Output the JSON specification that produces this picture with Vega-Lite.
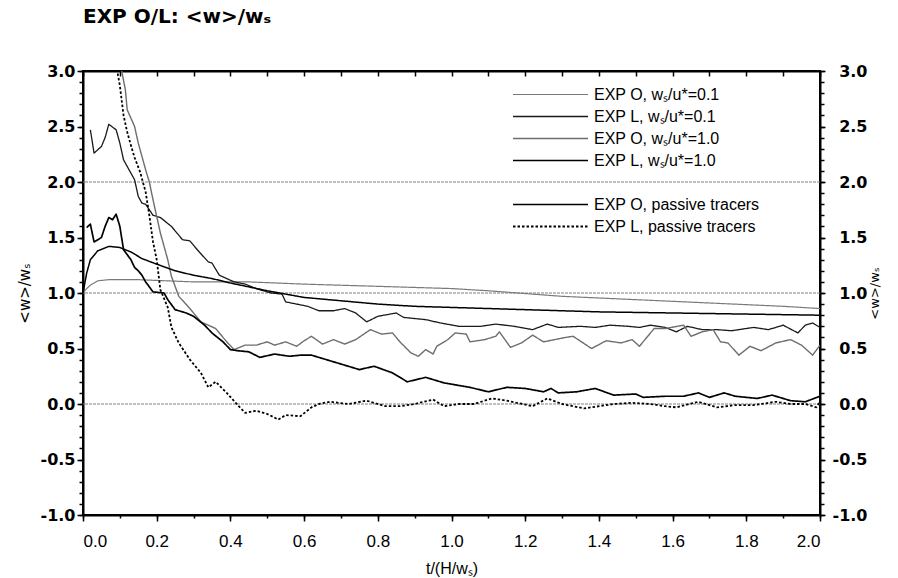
{
  "$schema": "https://vega.github.io/schema/vega-lite/v6.json",
  "width": 737,
  "height": 444,
  "autosize": {"type": "none"},
  "padding": {"left": 83, "top": 71, "right": 78, "bottom": 63},
  "background": "white",
  "title": {"text": "EXP O/L: <w>/wₛ", "anchor": "start", "frame": "group", "fontSize": 20, "fontWeight": "bold", "font": "DejaVu Sans", "color": "black", "offset": 36},
  "config": {
    "view": {"stroke": "black", "strokeWidth": 2},
    "axis": {"domainColor": "black", "domainWidth": 2, "tickColor": "black", "tickWidth": 1.5, "labelColor": "black", "titleColor": "black", "labelFont": "DejaVu Sans", "titleFont": "DejaVu Sans", "grid": false},
    "line": {"clip": true}
  },
  "datasets": {
    "curves": [
      {"s": "EXP O, wₛ/u*=0.1", "t": 0.0, "w": 1.0},
      {"s": "EXP O, wₛ/u*=0.1", "t": 0.01, "w": 1.04},
      {"s": "EXP O, wₛ/u*=0.1", "t": 0.02, "w": 1.07},
      {"s": "EXP O, wₛ/u*=0.1", "t": 0.04, "w": 1.11},
      {"s": "EXP O, wₛ/u*=0.1", "t": 0.07, "w": 1.12},
      {"s": "EXP O, wₛ/u*=0.1", "t": 0.15, "w": 1.12},
      {"s": "EXP O, wₛ/u*=0.1", "t": 0.3, "w": 1.1},
      {"s": "EXP O, wₛ/u*=0.1", "t": 0.45, "w": 1.1},
      {"s": "EXP O, wₛ/u*=0.1", "t": 0.6, "w": 1.08},
      {"s": "EXP O, wₛ/u*=0.1", "t": 0.8, "w": 1.06},
      {"s": "EXP O, wₛ/u*=0.1", "t": 1.0, "w": 1.04},
      {"s": "EXP O, wₛ/u*=0.1", "t": 1.1, "w": 1.02},
      {"s": "EXP O, wₛ/u*=0.1", "t": 1.3, "w": 0.97},
      {"s": "EXP O, wₛ/u*=0.1", "t": 1.5, "w": 0.94},
      {"s": "EXP O, wₛ/u*=0.1", "t": 1.7, "w": 0.91},
      {"s": "EXP O, wₛ/u*=0.1", "t": 1.9, "w": 0.88},
      {"s": "EXP O, wₛ/u*=0.1", "t": 2.0, "w": 0.86},

      {"s": "EXP L, wₛ/u*=0.1", "t": 0.02, "w": 2.47},
      {"s": "EXP L, wₛ/u*=0.1", "t": 0.03, "w": 2.26},
      {"s": "EXP L, wₛ/u*=0.1", "t": 0.05, "w": 2.32},
      {"s": "EXP L, wₛ/u*=0.1", "t": 0.06, "w": 2.4},
      {"s": "EXP L, wₛ/u*=0.1", "t": 0.07, "w": 2.52},
      {"s": "EXP L, wₛ/u*=0.1", "t": 0.09, "w": 2.47},
      {"s": "EXP L, wₛ/u*=0.1", "t": 0.1, "w": 2.35},
      {"s": "EXP L, wₛ/u*=0.1", "t": 0.11, "w": 2.2},
      {"s": "EXP L, wₛ/u*=0.1", "t": 0.14, "w": 2.02},
      {"s": "EXP L, wₛ/u*=0.1", "t": 0.15, "w": 1.87},
      {"s": "EXP L, wₛ/u*=0.1", "t": 0.16, "w": 1.81},
      {"s": "EXP L, wₛ/u*=0.1", "t": 0.17, "w": 1.8},
      {"s": "EXP L, wₛ/u*=0.1", "t": 0.19, "w": 1.7},
      {"s": "EXP L, wₛ/u*=0.1", "t": 0.21, "w": 1.68},
      {"s": "EXP L, wₛ/u*=0.1", "t": 0.24, "w": 1.6},
      {"s": "EXP L, wₛ/u*=0.1", "t": 0.27, "w": 1.48},
      {"s": "EXP L, wₛ/u*=0.1", "t": 0.29, "w": 1.47},
      {"s": "EXP L, wₛ/u*=0.1", "t": 0.31, "w": 1.39},
      {"s": "EXP L, wₛ/u*=0.1", "t": 0.34, "w": 1.28},
      {"s": "EXP L, wₛ/u*=0.1", "t": 0.35, "w": 1.27},
      {"s": "EXP L, wₛ/u*=0.1", "t": 0.37, "w": 1.16},
      {"s": "EXP L, wₛ/u*=0.1", "t": 0.39, "w": 1.13},
      {"s": "EXP L, wₛ/u*=0.1", "t": 0.41, "w": 1.1},
      {"s": "EXP L, wₛ/u*=0.1", "t": 0.44, "w": 1.08},
      {"s": "EXP L, wₛ/u*=0.1", "t": 0.47, "w": 1.04},
      {"s": "EXP L, wₛ/u*=0.1", "t": 0.51, "w": 1.0},
      {"s": "EXP L, wₛ/u*=0.1", "t": 0.54, "w": 0.99},
      {"s": "EXP L, wₛ/u*=0.1", "t": 0.55, "w": 0.92},
      {"s": "EXP L, wₛ/u*=0.1", "t": 0.58, "w": 0.9},
      {"s": "EXP L, wₛ/u*=0.1", "t": 0.61, "w": 0.88},
      {"s": "EXP L, wₛ/u*=0.1", "t": 0.64, "w": 0.84},
      {"s": "EXP L, wₛ/u*=0.1", "t": 0.68, "w": 0.84},
      {"s": "EXP L, wₛ/u*=0.1", "t": 0.71, "w": 0.86},
      {"s": "EXP L, wₛ/u*=0.1", "t": 0.74, "w": 0.82},
      {"s": "EXP L, wₛ/u*=0.1", "t": 0.77, "w": 0.74},
      {"s": "EXP L, wₛ/u*=0.1", "t": 0.8, "w": 0.79},
      {"s": "EXP L, wₛ/u*=0.1", "t": 0.85, "w": 0.82},
      {"s": "EXP L, wₛ/u*=0.1", "t": 0.87, "w": 0.78},
      {"s": "EXP L, wₛ/u*=0.1", "t": 0.93, "w": 0.76},
      {"s": "EXP L, wₛ/u*=0.1", "t": 0.97, "w": 0.73},
      {"s": "EXP L, wₛ/u*=0.1", "t": 1.02, "w": 0.7},
      {"s": "EXP L, wₛ/u*=0.1", "t": 1.08, "w": 0.7},
      {"s": "EXP L, wₛ/u*=0.1", "t": 1.12, "w": 0.72},
      {"s": "EXP L, wₛ/u*=0.1", "t": 1.17, "w": 0.7},
      {"s": "EXP L, wₛ/u*=0.1", "t": 1.22, "w": 0.67},
      {"s": "EXP L, wₛ/u*=0.1", "t": 1.26, "w": 0.72},
      {"s": "EXP L, wₛ/u*=0.1", "t": 1.29, "w": 0.69},
      {"s": "EXP L, wₛ/u*=0.1", "t": 1.35, "w": 0.7},
      {"s": "EXP L, wₛ/u*=0.1", "t": 1.39, "w": 0.69},
      {"s": "EXP L, wₛ/u*=0.1", "t": 1.43, "w": 0.71},
      {"s": "EXP L, wₛ/u*=0.1", "t": 1.48, "w": 0.7},
      {"s": "EXP L, wₛ/u*=0.1", "t": 1.51, "w": 0.69},
      {"s": "EXP L, wₛ/u*=0.1", "t": 1.54, "w": 0.71},
      {"s": "EXP L, wₛ/u*=0.1", "t": 1.58, "w": 0.69},
      {"s": "EXP L, wₛ/u*=0.1", "t": 1.61, "w": 0.65},
      {"s": "EXP L, wₛ/u*=0.1", "t": 1.64, "w": 0.7},
      {"s": "EXP L, wₛ/u*=0.1", "t": 1.68, "w": 0.67},
      {"s": "EXP L, wₛ/u*=0.1", "t": 1.72, "w": 0.67},
      {"s": "EXP L, wₛ/u*=0.1", "t": 1.76, "w": 0.66},
      {"s": "EXP L, wₛ/u*=0.1", "t": 1.82, "w": 0.69},
      {"s": "EXP L, wₛ/u*=0.1", "t": 1.86, "w": 0.67},
      {"s": "EXP L, wₛ/u*=0.1", "t": 1.9, "w": 0.71},
      {"s": "EXP L, wₛ/u*=0.1", "t": 1.94, "w": 0.64},
      {"s": "EXP L, wₛ/u*=0.1", "t": 1.96, "w": 0.71},
      {"s": "EXP L, wₛ/u*=0.1", "t": 1.98, "w": 0.73},
      {"s": "EXP L, wₛ/u*=0.1", "t": 2.0, "w": 0.69},

      {"s": "EXP O, wₛ/u*=1.0", "t": 0.09, "w": 3.4},
      {"s": "EXP O, wₛ/u*=1.0", "t": 0.105, "w": 3.0},
      {"s": "EXP O, wₛ/u*=1.0", "t": 0.115, "w": 2.83},
      {"s": "EXP O, wₛ/u*=1.0", "t": 0.12, "w": 2.65},
      {"s": "EXP O, wₛ/u*=1.0", "t": 0.14, "w": 2.5},
      {"s": "EXP O, wₛ/u*=1.0", "t": 0.15, "w": 2.35},
      {"s": "EXP O, wₛ/u*=1.0", "t": 0.16, "w": 2.23},
      {"s": "EXP O, wₛ/u*=1.0", "t": 0.17, "w": 2.11},
      {"s": "EXP O, wₛ/u*=1.0", "t": 0.18, "w": 2.0},
      {"s": "EXP O, wₛ/u*=1.0", "t": 0.19, "w": 1.84},
      {"s": "EXP O, wₛ/u*=1.0", "t": 0.2, "w": 1.69},
      {"s": "EXP O, wₛ/u*=1.0", "t": 0.21, "w": 1.54},
      {"s": "EXP O, wₛ/u*=1.0", "t": 0.22, "w": 1.42},
      {"s": "EXP O, wₛ/u*=1.0", "t": 0.23, "w": 1.3},
      {"s": "EXP O, wₛ/u*=1.0", "t": 0.24, "w": 1.15},
      {"s": "EXP O, wₛ/u*=1.0", "t": 0.26, "w": 0.97},
      {"s": "EXP O, wₛ/u*=1.0", "t": 0.29, "w": 0.86},
      {"s": "EXP O, wₛ/u*=1.0", "t": 0.32, "w": 0.74},
      {"s": "EXP O, wₛ/u*=1.0", "t": 0.34, "w": 0.71},
      {"s": "EXP O, wₛ/u*=1.0", "t": 0.36, "w": 0.68},
      {"s": "EXP O, wₛ/u*=1.0", "t": 0.39, "w": 0.56},
      {"s": "EXP O, wₛ/u*=1.0", "t": 0.41, "w": 0.49},
      {"s": "EXP O, wₛ/u*=1.0", "t": 0.44, "w": 0.53},
      {"s": "EXP O, wₛ/u*=1.0", "t": 0.47, "w": 0.53},
      {"s": "EXP O, wₛ/u*=1.0", "t": 0.5, "w": 0.56},
      {"s": "EXP O, wₛ/u*=1.0", "t": 0.52, "w": 0.53},
      {"s": "EXP O, wₛ/u*=1.0", "t": 0.55, "w": 0.56},
      {"s": "EXP O, wₛ/u*=1.0", "t": 0.58, "w": 0.52},
      {"s": "EXP O, wₛ/u*=1.0", "t": 0.6, "w": 0.57},
      {"s": "EXP O, wₛ/u*=1.0", "t": 0.62, "w": 0.61},
      {"s": "EXP O, wₛ/u*=1.0", "t": 0.65, "w": 0.54},
      {"s": "EXP O, wₛ/u*=1.0", "t": 0.68, "w": 0.58},
      {"s": "EXP O, wₛ/u*=1.0", "t": 0.71, "w": 0.54},
      {"s": "EXP O, wₛ/u*=1.0", "t": 0.74, "w": 0.58},
      {"s": "EXP O, wₛ/u*=1.0", "t": 0.78, "w": 0.67},
      {"s": "EXP O, wₛ/u*=1.0", "t": 0.81, "w": 0.63},
      {"s": "EXP O, wₛ/u*=1.0", "t": 0.84, "w": 0.64},
      {"s": "EXP O, wₛ/u*=1.0", "t": 0.86, "w": 0.56},
      {"s": "EXP O, wₛ/u*=1.0", "t": 0.89, "w": 0.46},
      {"s": "EXP O, wₛ/u*=1.0", "t": 0.91, "w": 0.43},
      {"s": "EXP O, wₛ/u*=1.0", "t": 0.93, "w": 0.49},
      {"s": "EXP O, wₛ/u*=1.0", "t": 0.95, "w": 0.45},
      {"s": "EXP O, wₛ/u*=1.0", "t": 0.96, "w": 0.52},
      {"s": "EXP O, wₛ/u*=1.0", "t": 0.99, "w": 0.58},
      {"s": "EXP O, wₛ/u*=1.0", "t": 1.01, "w": 0.64},
      {"s": "EXP O, wₛ/u*=1.0", "t": 1.04, "w": 0.63},
      {"s": "EXP O, wₛ/u*=1.0", "t": 1.05, "w": 0.56},
      {"s": "EXP O, wₛ/u*=1.0", "t": 1.09, "w": 0.58},
      {"s": "EXP O, wₛ/u*=1.0", "t": 1.12, "w": 0.61},
      {"s": "EXP O, wₛ/u*=1.0", "t": 1.13, "w": 0.65},
      {"s": "EXP O, wₛ/u*=1.0", "t": 1.16, "w": 0.51},
      {"s": "EXP O, wₛ/u*=1.0", "t": 1.19, "w": 0.55},
      {"s": "EXP O, wₛ/u*=1.0", "t": 1.22, "w": 0.62},
      {"s": "EXP O, wₛ/u*=1.0", "t": 1.25, "w": 0.56},
      {"s": "EXP O, wₛ/u*=1.0", "t": 1.28, "w": 0.58},
      {"s": "EXP O, wₛ/u*=1.0", "t": 1.31, "w": 0.6},
      {"s": "EXP O, wₛ/u*=1.0", "t": 1.33, "w": 0.61},
      {"s": "EXP O, wₛ/u*=1.0", "t": 1.38, "w": 0.5},
      {"s": "EXP O, wₛ/u*=1.0", "t": 1.42, "w": 0.57},
      {"s": "EXP O, wₛ/u*=1.0", "t": 1.46, "w": 0.55},
      {"s": "EXP O, wₛ/u*=1.0", "t": 1.49, "w": 0.58},
      {"s": "EXP O, wₛ/u*=1.0", "t": 1.51, "w": 0.52},
      {"s": "EXP O, wₛ/u*=1.0", "t": 1.55, "w": 0.68},
      {"s": "EXP O, wₛ/u*=1.0", "t": 1.58, "w": 0.68},
      {"s": "EXP O, wₛ/u*=1.0", "t": 1.63, "w": 0.71},
      {"s": "EXP O, wₛ/u*=1.0", "t": 1.65, "w": 0.61},
      {"s": "EXP O, wₛ/u*=1.0", "t": 1.68, "w": 0.65},
      {"s": "EXP O, wₛ/u*=1.0", "t": 1.71, "w": 0.67},
      {"s": "EXP O, wₛ/u*=1.0", "t": 1.73, "w": 0.56},
      {"s": "EXP O, wₛ/u*=1.0", "t": 1.75, "w": 0.55},
      {"s": "EXP O, wₛ/u*=1.0", "t": 1.78, "w": 0.44},
      {"s": "EXP O, wₛ/u*=1.0", "t": 1.81, "w": 0.52},
      {"s": "EXP O, wₛ/u*=1.0", "t": 1.84, "w": 0.48},
      {"s": "EXP O, wₛ/u*=1.0", "t": 1.88, "w": 0.55},
      {"s": "EXP O, wₛ/u*=1.0", "t": 1.92, "w": 0.58},
      {"s": "EXP O, wₛ/u*=1.0", "t": 1.95, "w": 0.53},
      {"s": "EXP O, wₛ/u*=1.0", "t": 1.98, "w": 0.44},
      {"s": "EXP O, wₛ/u*=1.0", "t": 2.0, "w": 0.53},

      {"s": "EXP L, wₛ/u*=1.0", "t": 0.0, "w": 1.0},
      {"s": "EXP L, wₛ/u*=1.0", "t": 0.01, "w": 1.18},
      {"s": "EXP L, wₛ/u*=1.0", "t": 0.02, "w": 1.3},
      {"s": "EXP L, wₛ/u*=1.0", "t": 0.04, "w": 1.38},
      {"s": "EXP L, wₛ/u*=1.0", "t": 0.07, "w": 1.42},
      {"s": "EXP L, wₛ/u*=1.0", "t": 0.1, "w": 1.41},
      {"s": "EXP L, wₛ/u*=1.0", "t": 0.13, "w": 1.37},
      {"s": "EXP L, wₛ/u*=1.0", "t": 0.16, "w": 1.31},
      {"s": "EXP L, wₛ/u*=1.0", "t": 0.2, "w": 1.26},
      {"s": "EXP L, wₛ/u*=1.0", "t": 0.25, "w": 1.2},
      {"s": "EXP L, wₛ/u*=1.0", "t": 0.3, "w": 1.16},
      {"s": "EXP L, wₛ/u*=1.0", "t": 0.35, "w": 1.13},
      {"s": "EXP L, wₛ/u*=1.0", "t": 0.4, "w": 1.09},
      {"s": "EXP L, wₛ/u*=1.0", "t": 0.5, "w": 1.02},
      {"s": "EXP L, wₛ/u*=1.0", "t": 0.6, "w": 0.96},
      {"s": "EXP L, wₛ/u*=1.0", "t": 0.7, "w": 0.93},
      {"s": "EXP L, wₛ/u*=1.0", "t": 0.8, "w": 0.9},
      {"s": "EXP L, wₛ/u*=1.0", "t": 0.9, "w": 0.88},
      {"s": "EXP L, wₛ/u*=1.0", "t": 1.0, "w": 0.87},
      {"s": "EXP L, wₛ/u*=1.0", "t": 1.2, "w": 0.85},
      {"s": "EXP L, wₛ/u*=1.0", "t": 1.4, "w": 0.83},
      {"s": "EXP L, wₛ/u*=1.0", "t": 1.6, "w": 0.82},
      {"s": "EXP L, wₛ/u*=1.0", "t": 1.8, "w": 0.81},
      {"s": "EXP L, wₛ/u*=1.0", "t": 2.0, "w": 0.8},

      {"s": "EXP O, passive tracers", "t": 0.01, "w": 1.59},
      {"s": "EXP O, passive tracers", "t": 0.02, "w": 1.62},
      {"s": "EXP O, passive tracers", "t": 0.03, "w": 1.46},
      {"s": "EXP O, passive tracers", "t": 0.05, "w": 1.5},
      {"s": "EXP O, passive tracers", "t": 0.06, "w": 1.6},
      {"s": "EXP O, passive tracers", "t": 0.07, "w": 1.68},
      {"s": "EXP O, passive tracers", "t": 0.08, "w": 1.66},
      {"s": "EXP O, passive tracers", "t": 0.09, "w": 1.71},
      {"s": "EXP O, passive tracers", "t": 0.1, "w": 1.6},
      {"s": "EXP O, passive tracers", "t": 0.11, "w": 1.39},
      {"s": "EXP O, passive tracers", "t": 0.13, "w": 1.3},
      {"s": "EXP O, passive tracers", "t": 0.14, "w": 1.23},
      {"s": "EXP O, passive tracers", "t": 0.15, "w": 1.2},
      {"s": "EXP O, passive tracers", "t": 0.16, "w": 1.16},
      {"s": "EXP O, passive tracers", "t": 0.17, "w": 1.1},
      {"s": "EXP O, passive tracers", "t": 0.19, "w": 1.01},
      {"s": "EXP O, passive tracers", "t": 0.22, "w": 1.0},
      {"s": "EXP O, passive tracers", "t": 0.23, "w": 0.94},
      {"s": "EXP O, passive tracers", "t": 0.25, "w": 0.85},
      {"s": "EXP O, passive tracers", "t": 0.28, "w": 0.82},
      {"s": "EXP O, passive tracers", "t": 0.3, "w": 0.79},
      {"s": "EXP O, passive tracers", "t": 0.33, "w": 0.71},
      {"s": "EXP O, passive tracers", "t": 0.35, "w": 0.64},
      {"s": "EXP O, passive tracers", "t": 0.38, "w": 0.56},
      {"s": "EXP O, passive tracers", "t": 0.4, "w": 0.49},
      {"s": "EXP O, passive tracers", "t": 0.42, "w": 0.48},
      {"s": "EXP O, passive tracers", "t": 0.45, "w": 0.47},
      {"s": "EXP O, passive tracers", "t": 0.48, "w": 0.42},
      {"s": "EXP O, passive tracers", "t": 0.52, "w": 0.45},
      {"s": "EXP O, passive tracers", "t": 0.56, "w": 0.43},
      {"s": "EXP O, passive tracers", "t": 0.59, "w": 0.44},
      {"s": "EXP O, passive tracers", "t": 0.62, "w": 0.44},
      {"s": "EXP O, passive tracers", "t": 0.65, "w": 0.41},
      {"s": "EXP O, passive tracers", "t": 0.68, "w": 0.38},
      {"s": "EXP O, passive tracers", "t": 0.75, "w": 0.31},
      {"s": "EXP O, passive tracers", "t": 0.79, "w": 0.34},
      {"s": "EXP O, passive tracers", "t": 0.84, "w": 0.28},
      {"s": "EXP O, passive tracers", "t": 0.88, "w": 0.2},
      {"s": "EXP O, passive tracers", "t": 0.93, "w": 0.24},
      {"s": "EXP O, passive tracers", "t": 0.98, "w": 0.19},
      {"s": "EXP O, passive tracers", "t": 1.05, "w": 0.15},
      {"s": "EXP O, passive tracers", "t": 1.1, "w": 0.11},
      {"s": "EXP O, passive tracers", "t": 1.15, "w": 0.15},
      {"s": "EXP O, passive tracers", "t": 1.2, "w": 0.14},
      {"s": "EXP O, passive tracers", "t": 1.25, "w": 0.11},
      {"s": "EXP O, passive tracers", "t": 1.27, "w": 0.14},
      {"s": "EXP O, passive tracers", "t": 1.29, "w": 0.1},
      {"s": "EXP O, passive tracers", "t": 1.34, "w": 0.11},
      {"s": "EXP O, passive tracers", "t": 1.39, "w": 0.14},
      {"s": "EXP O, passive tracers", "t": 1.44, "w": 0.08},
      {"s": "EXP O, passive tracers", "t": 1.5, "w": 0.09},
      {"s": "EXP O, passive tracers", "t": 1.52, "w": 0.06},
      {"s": "EXP O, passive tracers", "t": 1.58, "w": 0.07},
      {"s": "EXP O, passive tracers", "t": 1.63, "w": 0.07},
      {"s": "EXP O, passive tracers", "t": 1.67, "w": 0.1},
      {"s": "EXP O, passive tracers", "t": 1.7, "w": 0.06},
      {"s": "EXP O, passive tracers", "t": 1.74, "w": 0.1},
      {"s": "EXP O, passive tracers", "t": 1.77, "w": 0.07},
      {"s": "EXP O, passive tracers", "t": 1.83, "w": 0.05},
      {"s": "EXP O, passive tracers", "t": 1.87, "w": 0.08},
      {"s": "EXP O, passive tracers", "t": 1.92, "w": 0.03},
      {"s": "EXP O, passive tracers", "t": 1.96, "w": 0.02},
      {"s": "EXP O, passive tracers", "t": 2.0, "w": 0.07},

      {"s": "EXP L, passive tracers", "t": 0.085, "w": 3.3},
      {"s": "EXP L, passive tracers", "t": 0.095, "w": 2.96},
      {"s": "EXP L, passive tracers", "t": 0.1, "w": 2.87},
      {"s": "EXP L, passive tracers", "t": 0.11, "w": 2.6},
      {"s": "EXP L, passive tracers", "t": 0.12, "w": 2.45},
      {"s": "EXP L, passive tracers", "t": 0.13, "w": 2.33},
      {"s": "EXP L, passive tracers", "t": 0.14, "w": 2.22},
      {"s": "EXP L, passive tracers", "t": 0.155, "w": 2.09},
      {"s": "EXP L, passive tracers", "t": 0.17, "w": 1.91},
      {"s": "EXP L, passive tracers", "t": 0.18, "w": 1.7},
      {"s": "EXP L, passive tracers", "t": 0.19, "w": 1.46},
      {"s": "EXP L, passive tracers", "t": 0.2, "w": 1.3},
      {"s": "EXP L, passive tracers", "t": 0.21, "w": 1.03},
      {"s": "EXP L, passive tracers", "t": 0.23, "w": 0.87},
      {"s": "EXP L, passive tracers", "t": 0.24, "w": 0.69},
      {"s": "EXP L, passive tracers", "t": 0.26, "w": 0.55},
      {"s": "EXP L, passive tracers", "t": 0.29, "w": 0.4},
      {"s": "EXP L, passive tracers", "t": 0.32, "w": 0.28},
      {"s": "EXP L, passive tracers", "t": 0.34, "w": 0.15},
      {"s": "EXP L, passive tracers", "t": 0.36, "w": 0.2},
      {"s": "EXP L, passive tracers", "t": 0.39, "w": 0.1},
      {"s": "EXP L, passive tracers", "t": 0.42, "w": -0.01},
      {"s": "EXP L, passive tracers", "t": 0.44, "w": -0.08},
      {"s": "EXP L, passive tracers", "t": 0.47, "w": -0.06},
      {"s": "EXP L, passive tracers", "t": 0.5, "w": -0.09},
      {"s": "EXP L, passive tracers", "t": 0.53, "w": -0.14},
      {"s": "EXP L, passive tracers", "t": 0.55, "w": -0.1},
      {"s": "EXP L, passive tracers", "t": 0.59, "w": -0.11},
      {"s": "EXP L, passive tracers", "t": 0.62, "w": -0.03},
      {"s": "EXP L, passive tracers", "t": 0.64, "w": 0.0},
      {"s": "EXP L, passive tracers", "t": 0.67, "w": 0.02},
      {"s": "EXP L, passive tracers", "t": 0.72, "w": 0.0},
      {"s": "EXP L, passive tracers", "t": 0.77, "w": 0.03},
      {"s": "EXP L, passive tracers", "t": 0.82, "w": -0.02},
      {"s": "EXP L, passive tracers", "t": 0.86, "w": -0.02},
      {"s": "EXP L, passive tracers", "t": 0.9, "w": 0.0},
      {"s": "EXP L, passive tracers", "t": 0.95, "w": 0.04},
      {"s": "EXP L, passive tracers", "t": 0.98, "w": -0.02},
      {"s": "EXP L, passive tracers", "t": 1.02, "w": 0.0},
      {"s": "EXP L, passive tracers", "t": 1.06, "w": 0.0},
      {"s": "EXP L, passive tracers", "t": 1.11, "w": 0.05},
      {"s": "EXP L, passive tracers", "t": 1.15, "w": 0.03},
      {"s": "EXP L, passive tracers", "t": 1.22, "w": -0.02},
      {"s": "EXP L, passive tracers", "t": 1.26, "w": 0.05},
      {"s": "EXP L, passive tracers", "t": 1.3, "w": 0.0},
      {"s": "EXP L, passive tracers", "t": 1.33, "w": -0.02},
      {"s": "EXP L, passive tracers", "t": 1.36, "w": -0.04},
      {"s": "EXP L, passive tracers", "t": 1.44, "w": 0.0},
      {"s": "EXP L, passive tracers", "t": 1.49, "w": 0.01},
      {"s": "EXP L, passive tracers", "t": 1.54, "w": 0.0},
      {"s": "EXP L, passive tracers", "t": 1.58, "w": -0.02},
      {"s": "EXP L, passive tracers", "t": 1.61, "w": -0.03},
      {"s": "EXP L, passive tracers", "t": 1.67, "w": 0.02},
      {"s": "EXP L, passive tracers", "t": 1.72, "w": -0.03},
      {"s": "EXP L, passive tracers", "t": 1.77, "w": -0.01},
      {"s": "EXP L, passive tracers", "t": 1.82, "w": -0.01},
      {"s": "EXP L, passive tracers", "t": 1.88, "w": 0.02},
      {"s": "EXP L, passive tracers", "t": 1.92, "w": 0.0},
      {"s": "EXP L, passive tracers", "t": 1.96, "w": 0.0},
      {"s": "EXP L, passive tracers", "t": 1.99, "w": -0.03},
      {"s": "EXP L, passive tracers", "t": 2.0, "w": 0.02}
    ]
  },
  "layer": [
    {
      "data": {"values": [{"level": 0}, {"level": 1}, {"level": 2}]},
      "mark": {"type": "rule", "color": "#808080", "strokeWidth": 1, "strokeDash": [3, 1]},
      "encoding": {
        "y": {"field": "level", "type": "quantitative", "scale": {"domain": [-1, 3], "nice": false, "zero": false},
          "axis": {"orient": "left", "values": [-1,-0.9,-0.8,-0.7,-0.6,-0.5,-0.4,-0.3,-0.2,-0.1,0,0.1,0.2,0.3,0.4,0.5,0.6,0.7,0.8,0.9,1,1.1,1.2,1.3,1.4,1.5,1.6,1.7,1.8,1.9,2,2.1,2.2,2.3,2.4,2.5,2.6,2.7,2.8,2.9,3], "labels": false, "tickSize": 4, "domain": false, "title": null}}
      }
    },
    {
      "data": {"name": "curves"},
      "mark": {"type": "line", "clip": true, "strokeJoin": "round"},
      "encoding": {
        "x": {"field": "t", "type": "quantitative", "scale": {"domain": [0, 2], "nice": false, "zero": false},
          "axis": {"orient": "bottom", "values": [0,0.2,0.4,0.6,0.8,1.0,1.2,1.4,1.6,1.8,2.0], "format": ".1f", "tickSize": 6, "labelPadding": 12, "labelFont": "Liberation Sans Narrow, Liberation Sans", "labelFontSize": 17, "title": "t/(H/wₛ)", "titleFont": "Liberation Sans Narrow, Liberation Sans", "titleFontSize": 16, "titleFontWeight": "normal", "titlePadding": 11}},
        "y": {"field": "w", "type": "quantitative", "scale": {"domain": [-1, 3], "nice": false, "zero": false},
          "axis": {"orient": "left", "values": [-1,-0.5,0,0.5,1,1.5,2,2.5,3], "format": ".1f", "labelExpr": "replace(datum.label, '\u2212', '-')", "tickSize": 6, "labelPadding": 2, "labelFontSize": 16, "labelFontWeight": "bold", "title": "<w>/wₛ", "titleFontSize": 15, "titleFontWeight": "normal", "titlePadding": 8}},
        "color": {"field": "s", "type": "nominal",
          "scale": {"domain": ["EXP O, wₛ/u*=0.1", "EXP L, wₛ/u*=0.1", "EXP O, wₛ/u*=1.0", "EXP L, wₛ/u*=1.0", "gap", "EXP O, passive tracers", "EXP L, passive tracers"],
            "range": ["#7a7a7a", "#1a1a1a", "#6e6e6e", "#000000", "transparent", "#000000", "#000000"]},
          "legend": {"orient": "none", "legendX": 429, "legendY": 15, "title": null, "symbolType": "stroke", "symbolSize": 5625, "clipHeight": 17, "rowPadding": 5, "padding": 0, "labelOffset": 5, "labelFont": "Liberation Sans", "labelFontSize": 16, "labelColor": "black", "labelLimit": 300, "labelExpr": "datum.label == 'gap' ? '' : datum.label"}},
        "strokeWidth": {"field": "s", "type": "nominal",
          "scale": {"domain": ["EXP O, wₛ/u*=0.1", "EXP L, wₛ/u*=0.1", "EXP O, wₛ/u*=1.0", "EXP L, wₛ/u*=1.0", "gap", "EXP O, passive tracers", "EXP L, passive tracers"],
            "range": [1.2, 1.8, 1.2, 2.6, 0, 2.3, 1.8]}},
        "strokeDash": {"field": "s", "type": "nominal",
          "scale": {"domain": ["EXP O, wₛ/u*=0.1", "EXP L, wₛ/u*=0.1", "EXP O, wₛ/u*=1.0", "EXP L, wₛ/u*=1.0", "gap", "EXP O, passive tracers", "EXP L, passive tracers"],
            "range": [[1, 0], [1, 0], [1, 0], [1, 0], [1, 0], [1, 0], [2.5, 2]]}}
      }
    },
    {
      "data": {"name": "curves"},
      "mark": {"type": "point", "opacity": 0, "size": 0, "clip": true},
      "encoding": {
        "x": {"field": "t", "type": "quantitative", "scale": {"domain": [0, 2], "nice": false, "zero": false},
          "axis": {"orient": "bottom", "values": [0,0.1,0.2,0.3,0.4,0.5,0.6,0.7,0.8,0.9,1,1.1,1.2,1.3,1.4,1.5,1.6,1.7,1.8,1.9,2], "labels": false, "tickSize": 3, "domain": false, "title": null}},
        "y": {"field": "w", "type": "quantitative", "scale": {"domain": [-1, 3], "nice": false, "zero": false},
          "axis": {"orient": "right", "values": [-1,-0.5,0,0.5,1,1.5,2,2.5,3], "format": ".1f", "labelExpr": "replace(datum.label, '\u2212', '-')", "tickSize": 5, "labelAlign": "right", "labelPadding": 42, "labelFontSize": 16, "labelFontWeight": "bold", "title": "<w>/wₛ", "titleAngle": 270, "titleFontSize": 13, "titleFontWeight": "normal", "titlePadding": 14}}
      }
    },
    {
      "data": {"name": "curves"},
      "mark": {"type": "point", "opacity": 0, "size": 0, "clip": true},
      "encoding": {
        "x": {"field": "t", "type": "quantitative", "scale": {"domain": [0, 2], "nice": false, "zero": false},
          "axis": {"orient": "top", "values": [0,0.1,0.2,0.3,0.4,0.5,0.6,0.7,0.8,0.9,1,1.1,1.2,1.3,1.4,1.5,1.6,1.7,1.8,1.9,2], "labels": false, "tickSize": -5, "title": null}},
        "y": {"field": "w", "type": "quantitative", "scale": {"domain": [-1, 3], "nice": false, "zero": false},
          "axis": {"orient": "right", "values": [-1,-0.9,-0.8,-0.7,-0.6,-0.5,-0.4,-0.3,-0.2,-0.1,0,0.1,0.2,0.3,0.4,0.5,0.6,0.7,0.8,0.9,1,1.1,1.2,1.3,1.4,1.5,1.6,1.7,1.8,1.9,2,2.1,2.2,2.3,2.4,2.5,2.6,2.7,2.8,2.9,3], "labels": false, "tickSize": 4, "domain": false, "title": null}}
      }
    }
  ],
  "resolve": {"axis": {"x": "independent", "y": "independent"}}
}
